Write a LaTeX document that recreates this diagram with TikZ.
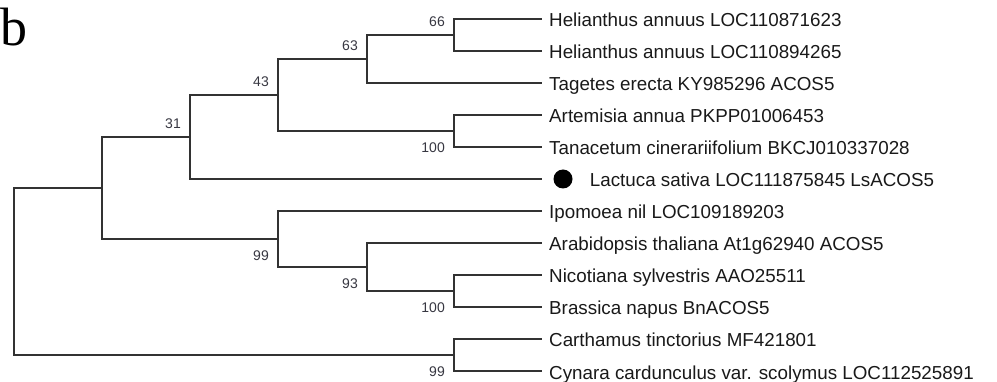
\documentclass[tikz,border=0pt]{standalone}
\usepackage{fontspec}
\setmainfont{Liberation Sans}
\newfontfamily\panelfont{Liberation Serif}
\usepackage{tikz}
\usetikzlibrary{positioning}
\definecolor{branchgray}{RGB}{50,50,50}
\definecolor{labelink} {RGB}{25,25,25}
\definecolor{bootink}  {RGB}{55,55,65}
\tikzset{
  leaf/.style  ={anchor=west, inner xsep=7pt, inner ysep=0pt,
                 text height=19pt, text depth=3pt,
                 font=\fontsize{18.8}{19}\selectfont, text=labelink},
  branch/.style={draw=branchgray, line width=1.7pt},
  boot/.style  ={font=\fontsize{14}{14}\selectfont, text=bootink, inner sep=0pt},
}

\begin{document}
\begin{tikzpicture}[x=1pt, y=-1pt,
  tipdot/.style={circle, fill=black, inner sep=0pt, minimum size=19pt},
  panel/.style={font=\panelfont\fontsize{54}{54}\selectfont, anchor=base west, inner sep=0pt},
]
\useasboundingbox (0,0) rectangle (997,382);

%% ─── Panel letter ────────────────────────────────────────────────────────────
\node[panel] (pb) at (0,46) {b};

%% ─── Leaves ──────────────────────────────────────────────────────────────────
\foreach \i/\y/\name in {1/19/Helianthus annuus LOC110871623,
                         2/51/Helianthus annuus LOC110894265,
                         3/83/Tagetes erecta KY985296 ACOS5,
                         4/115/Artemisia annua PKPP01006453,
                         5/147/Tanacetum cinerariifolium BKCJ010337028,
                         7/211/Ipomoea nil LOC109189203,
                         8/243/Arabidopsis thaliana At1g62940 ACOS5,
                         9/275/Nicotiana sylvestris AAO25511,
                         10/307/Brassica napus BnACOS5,
                         11/339/Carthamus tinctorius MF421801,
                         12/371/Cynara cardunculus var. scolymus LOC112525891}{
  \node[leaf] (L\i) at (542,\y) {\name};
}
\coordinate (L6) at (542,179);
\node[tipdot] (dot) at (563,179) {};
\node[leaf, right=17pt of dot, inner xsep=0pt] (L6t) {Lactuca sativa LOC111875845 LsACOS5};

%% ─── Internal nodes ──────────────────────────────────────────────────────────
\coordinate (n66)  at (454,35);
\coordinate (n63)  at (367,59);
\coordinate (n100a) at (454,131);
\coordinate (n43)  at (278,95);
\coordinate (n31)  at (190,137);
\coordinate (n100b) at (454,291);
\coordinate (n93)  at (367,267);
\coordinate (n99a) at (278,239);
\coordinate (nin)  at (102,188);
\coordinate (n99b) at (454,355);
\coordinate (root) at (14,271.5);

%% ─── Branches ────────────────────────────────────────────────────────────────
\draw[branch] (n66) |- (L1.west);
\draw[branch] (n66) |- (L2.west);
\draw[branch] (n63) |- (n66);
\draw[branch] (n63) |- (L3.west);
\draw[branch] (n100a) |- (L4.west);
\draw[branch] (n100a) |- (L5.west);
\draw[branch] (n43) |- (n63);
\draw[branch] (n43) |- (n100a);
\draw[branch] (n31) |- (n43);
\draw[branch] (n31) |- (L6);
\draw[branch] (n100b) |- (L9.west);
\draw[branch] (n100b) |- (L10.west);
\draw[branch] (n93) |- (L8.west);
\draw[branch] (n93) |- (n100b);
\draw[branch] (n99a) |- (L7.west);
\draw[branch] (n99a) |- (n93);
\draw[branch] (nin) |- (n31);
\draw[branch] (nin) |- (n99a);
\draw[branch] (n99b) |- (L11.west);
\draw[branch] (n99b) |- (L12.west);
\draw[branch] (root) |- (nin);
\draw[branch] (root) |- (n99b);

%% ─── Bootstrap values ────────────────────────────────────────────────────────
\node[boot, above left=8pt and 9pt of n66]  (b66)  {66};
\node[boot, above left=8pt and 9pt of n63]  (b63)  {63};
\node[boot, above left=8pt and 9pt of n43]  (b43)  {43};
\node[boot, above left=8pt and 9pt of n31]  (b31)  {31};
\node[boot, below left=12pt and 9pt of n100a] (b100a) {100};
\node[boot, below left=12pt and 9pt of n99a]  (b99a)  {99};
\node[boot, below left=12pt and 9pt of n93]   (b93)   {93};
\node[boot, below left=12pt and 9pt of n100b] (b100b) {100};
\node[boot, below left=12pt and 9pt of n99b]  (b99b)  {99};

\end{tikzpicture}
\end{document}
